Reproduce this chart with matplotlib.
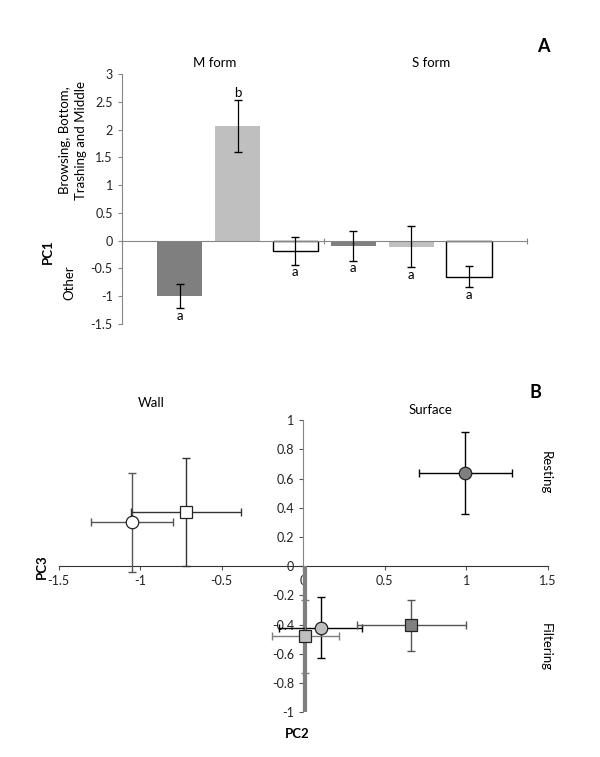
import numpy as np
import matplotlib.pyplot as plt

plt.rcParams['font.family'] = ['Lato', 'DejaVu Sans']

# Panel A data (PC1 by form and group)
forms = ['M form', 'S form']
pc1_vals = [-1.00, 2.07, -0.19, -0.09, -0.11, -0.65]
pc1_err = [0.22, 0.47, 0.25, 0.27, 0.37, 0.19]
pc1_letters = ['a', 'b', 'a', 'a', 'a', 'a']
bar_colors = ['#7f7f7f', '#bfbfbf', 'white', '#7f7f7f', '#bfbfbf', 'white']

# Panel B data (PC2 vs PC3)
pc2 = [-1.05, -0.72, 0.99, 0.11, 0.01, 0.66]
pc2_lo = [-1.30, -1.06, 0.71, -0.15, -0.19, 0.33]
pc2_hi = [-0.80, -0.38, 1.28, 0.36, 0.22, 1.00]
pc3 = [0.30, 0.37, 0.64, -0.42, -0.48, -0.40]
pc3_lo = [-0.04, 0.00, 0.36, -0.63, -0.73, -0.58]
pc3_hi = [0.64, 0.74, 0.92, -0.21, -0.23, -0.23]
pt_marker = ['o', 's', 'o', 'o', 's', 's']
pt_color = ['white', 'white', '#7f7f7f', '#bfbfbf', '#bfbfbf', '#7f7f7f']
err_color = ['#555555', '#333333', 'black', 'black', '#7f7f7f', '#555555']

axis_gray = '#868686'

fig = plt.figure(figsize=(6, 7.57), dpi=100)

# ---- Panel A ----
ax = fig.add_axes([0.203, 0.572, 0.675, 0.33])
x = np.arange(1, 7)
ax.bar(x, pc1_vals, width=0.78, color=bar_colors, edgecolor=['none', 'none', 'black', 'none', 'none', 'black'],
       linewidth=1.0, zorder=2)
ax.errorbar(x, pc1_vals, yerr=pc1_err, fmt='none', ecolor='black', elinewidth=0.9, capsize=3, zorder=3)
for xi, v, e, lab in zip(x, pc1_vals, pc1_err, pc1_letters):
    if v >= 0:
        ax.text(xi, v + e + 0.13, lab, ha='center', va='center', fontsize=9.5)
    else:
        ax.text(xi, v - e - 0.13, lab, ha='center', va='center', fontsize=9.5)

ax.set_xlim(0, 7)
ax.set_ylim(-1.5, 3)
ax.set_yticks(np.arange(-1.5, 3.01, 0.5))
ax.set_yticklabels(['-1.5', '-1', '-0.5', '0', '0.5', '1', '1.5', '2', '2.5', '3'])
ax.set_xticks([0, 3.5, 7])
ax.set_xticklabels([])
ax.spines['top'].set_visible(False)
ax.spines['right'].set_visible(False)
ax.spines['bottom'].set_position(('data', 0))
for s in ['left', 'bottom']:
    ax.spines[s].set_color(axis_gray)
ax.tick_params(axis='y', colors=axis_gray, labelcolor='#222222', labelsize=9, length=3)
ax.tick_params(axis='x', colors=axis_gray, length=5, direction='inout')
ax.set_zorder(1)

ax.text(1.6, 3.2, forms[0], ha='center', va='center', fontsize=9.5)
ax.text(5.35, 3.2, forms[1], ha='center', va='center', fontsize=9.5)
fig.text(0.905, 0.938, 'A', fontsize=13, fontweight='bold', ha='center', va='center')
fig.text(0.08, 0.668, 'PC1', fontsize=9.5, fontweight='bold', rotation=90, ha='center', va='center')
fig.text(0.122, 0.815, 'Browsing, Bottom,\nTrashing and Middle', fontsize=9.5, rotation=90,
         ha='center', va='center', linespacing=1.45)
fig.text(0.115, 0.627, 'Other', fontsize=9.5, rotation=90, ha='center', va='center')

# ---- Panel B ----
bx = fig.add_axes([0.098, 0.059, 0.815, 0.386])
bx.set_xlim(-1.5, 1.5)
bx.set_ylim(-1, 1)
bx.spines['top'].set_visible(False)
bx.spines['right'].set_visible(False)
bx.spines['left'].set_position(('data', 0))
bx.spines['bottom'].set_position(('data', 0))
bx.spines['left'].set_color(axis_gray)
bx.spines['bottom'].set_color('#333333')
bx.set_xticks(np.arange(-1.5, 1.51, 0.5))
bx.set_xticklabels(['-1.5', '-1', '-0.5', '0', '0.5', '1', '1.5'])
bx.set_yticks(np.arange(-1, 1.01, 0.2))
bx.set_yticklabels(['-1', '-0.8', '-0.6', '-0.4', '-0.2', '0', '0.2', '0.4', '0.6', '0.8', '1'])
bx.tick_params(axis='both', labelsize=9, labelcolor='#222222', colors='#555555', length=3)

# thick gray segment of the lower y-axis
bx.plot([0.01, 0.01], [0, -1], color='#7f7f7f', lw=3, zorder=4, solid_capstyle='butt')

for i in range(len(pc2)):
    xe = [[pc2[i] - pc2_lo[i]], [pc2_hi[i] - pc2[i]]]
    ye = [[pc3[i] - pc3_lo[i]], [pc3_hi[i] - pc3[i]]]
    bx.errorbar([pc2[i]], [pc3[i]], xerr=xe, yerr=ye, fmt='none', ecolor=err_color[i],
                elinewidth=1.0, capsize=3, zorder=5)
    bx.plot(pc2[i], pc3[i], marker=pt_marker[i], markersize=9 if pt_marker[i] == 'o' else 8.5,
            markerfacecolor=pt_color[i], markeredgecolor='#222222', markeredgewidth=0.9,
            linestyle='none', zorder=6)

fig.text(0.252, 0.467, 'Wall', fontsize=9.5, ha='center', va='center')
fig.text(0.718, 0.459, 'Surface', fontsize=9.5, ha='center', va='center')
fig.text(0.893, 0.482, 'B', fontsize=13, fontweight='bold', ha='center', va='center')
fig.text(0.91, 0.375, 'Resting', fontsize=9.5, rotation=-90, ha='center', va='center')
fig.text(0.91, 0.145, 'Filtering', fontsize=9.5, rotation=-90, ha='center', va='center')
fig.text(0.07, 0.252, 'PC3', fontsize=9.5, fontweight='bold', rotation=90, ha='center', va='center')
fig.text(0.495, 0.03, 'PC2', fontsize=9.5, fontweight='bold', ha='center', va='center')

fig.savefig('out.png', dpi=100)
